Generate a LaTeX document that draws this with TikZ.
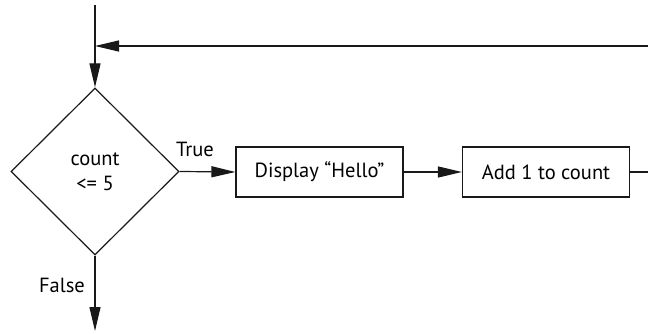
\documentclass[tikz,border=0pt]{standalone}
\usepackage{fontspec}
\setmainfont{PT Sans}
\usetikzlibrary{arrows.meta,shapes.geometric}
\begin{document}
\begin{tikzpicture}[x=1pt,y=-1pt,
  line/.style={draw=black!90,line width=1.2pt},
  arr/.style={line,-{Triangle[length=24pt,width=11pt]}},
  procbox/.style={draw=black!90,line width=1.2pt,minimum width=167pt,minimum height=50pt,inner sep=0pt,font=\fontsize{20.5}{22}\selectfont},
  lbl/.style={font=\fontsize{20.5}{22}\selectfont,inner sep=0pt}]
\useasboundingbox (0,0) rectangle (648,334);
\node[diamond,draw=black!90,line width=1.2pt,minimum width=168pt,minimum height=167pt,inner sep=0pt,aspect=1.006,align=center,font=\fontsize{20.5}{25}\selectfont] (dec) at (95,171.5) {count\\<= 5};
\node[procbox] (disp) at (319.5,172) {Display “Hello”};
\node[procbox] (add) at (546,172) {Add 1 to count};
\coordinate (start) at (95,5);
\coordinate (join) at (95,46);
\coordinate (loopin) at (648,46);
\coordinate (loopout) at (648,172);
\coordinate (end) at (95,331);
\draw[line] (start) -- (join);
\draw[arr] (join) -- (dec.north);
\draw[arr] (loopin) -- (join);
\draw[arr] (dec.east) -- (disp.west);
\draw[arr] (disp.east) -- (add.west);
\draw[line] (add.east) -- (loopout);
\draw[arr] (dec.south) -- (end);
\node[lbl] (t) at (195,149) {True};
\node[lbl] (f) at (62,285) {False};
\end{tikzpicture}
\end{document}
